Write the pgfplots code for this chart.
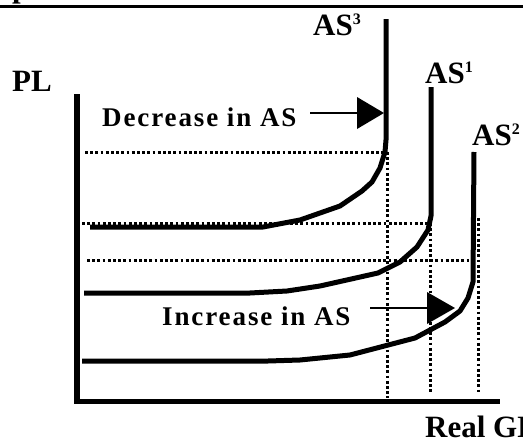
\documentclass[border=0pt]{standalone}
\usepackage{pgfplots}
\pgfplotsset{compat=1.18}
\usepackage{fontspec}
\setmainfont{Liberation Serif}

\tikzset{
  curve/.style={line width=5pt, line join=round, black},
  guide/.style={line width=3pt, dash pattern=on 2.8pt off 2.4pt, black},
  lbl/.style={anchor=base west, inner sep=0pt, font=\fontsize{31}{31}\selectfont\bfseries},
  note/.style={anchor=base west, inner sep=0pt, font=\fontsize{27}{27}\selectfont\bfseries\addfontfeature{LetterSpace=7}},
}
\newcommand{\supnum}[1]{\raisebox{11pt}{\fontsize{16}{16}\selectfont #1}}

\begin{document}
\begin{tikzpicture}
\begin{axis}[
  scale only axis, width=523pt, height=442pt,
  xmin=0, xmax=523, ymin=0, ymax=442, y dir=reverse,
  hide axis, clip=false,
]
% rule at the top of the page
\addplot[black, line width=3pt] coordinates {(0,6) (523,6)};
% axes
\addplot[black, line width=6pt] coordinates {(77,94) (77,401)};
\addplot[black, line width=5pt] coordinates {(74,401) (500,401)};

% dotted guides
\addplot[guide] coordinates {(85,152) (383,152)};
\addplot[guide] coordinates {(82,223) (427,223)};
\addplot[guide] coordinates {(87,260) (470,260)};
\addplot[guide] coordinates {(387,152) (387,398)};
\addplot[guide] coordinates {(430,223) (430,393)};
\addplot[guide] coordinates {(478,218) (478,392)};

% AS3
\addplot[curve] coordinates {(90,227) (263,227) (300,220) (340,206) (362,191) (372,182) (380,168) (385,152) (386,140) (386,19)};
% AS1
\addplot[curve] coordinates {(84,293) (250,293) (287,291) (320,286) (378,273) (400,262) (417,247) (428,230) (431,216) (431,87)};
% AS2
\addplot[curve] coordinates {(82,361) (268,361) (300,360) (350,355) (415,338) (445,322) (460,311) (468,298) (473,282) (474,152)};

% arrows
\addplot[black, line width=1.5pt] coordinates {(310,113) (358,113)};
\addplot[black, fill=black, draw=none] coordinates {(357,97) (384,113) (357,129)} -- cycle;
\addplot[black, line width=1.5pt] coordinates {(370,308) (428,308)};
\addplot[black, fill=black, draw=none] coordinates {(427,292) (455,308) (427,324)} -- cycle;

% text
\node[lbl] at (axis cs:12,-3) {p};
\node[lbl] at (axis cs:12,91) {PL};
\node[lbl] at (axis cs:313,35) {AS\supnum{3}};
\node[lbl] at (axis cs:425,83) {AS\supnum{1}};
\node[lbl] at (axis cs:472,145) {AS\supnum{2}};
\node[lbl] at (axis cs:425,437) {Real GDP};
\node[note] at (axis cs:102,126) {Decrease in AS};
\node[note] at (axis cs:162,325) {Increase in AS};
\end{axis}
\pgfresetboundingbox
\useasboundingbox (0,0) rectangle (523pt,442pt);
\end{tikzpicture}
\end{document}
